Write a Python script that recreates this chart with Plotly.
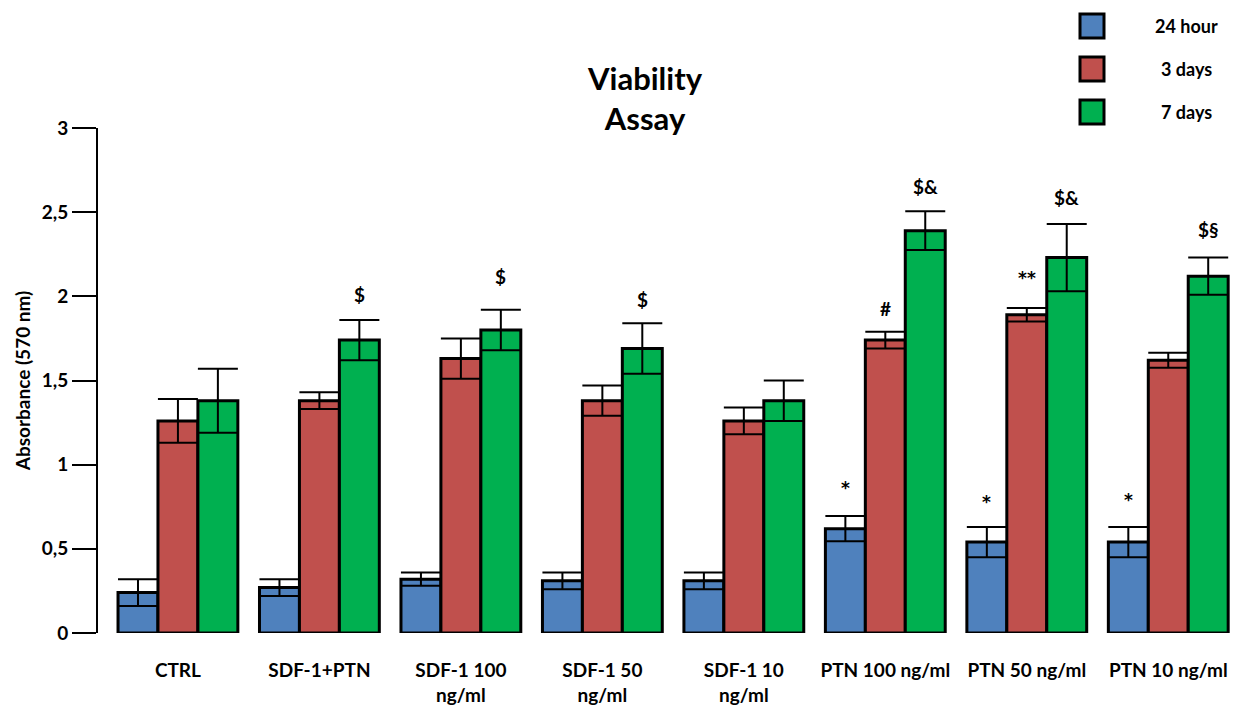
import plotly.graph_objects as go

categories = ["CTRL", "SDF-1+PTN", "SDF-1 100<br>ng/ml", "SDF-1 50<br>ng/ml", "SDF-1 10<br>ng/ml",
              "PTN 100 ng/ml", "PTN 50 ng/ml", "PTN 10 ng/ml"]
series_names = ["24 hour", "3 days", "7 days"]
colors = ["#4F81BD", "#C0504D", "#00B050"]

v_24h = [0.24, 0.27, 0.32, 0.31, 0.31, 0.62, 0.54, 0.54]
v_3d = [1.26, 1.38, 1.63, 1.38, 1.26, 1.74, 1.89, 1.62]
v_7d = [1.38, 1.74, 1.80, 1.69, 1.38, 2.39, 2.23, 2.12]

e_24h = [0.08, 0.05, 0.04, 0.05, 0.05, 0.075, 0.09, 0.09]
e_3d = [0.13, 0.05, 0.12, 0.09, 0.08, 0.05, 0.04, 0.045]
e_7d = [0.19, 0.12, 0.12, 0.15, 0.12, 0.115, 0.20, 0.11]

# significance marks: (category index, series index, label, y value)
marks = [
    (1, 2, "$", 2.01), (2, 2, "$", 2.12), (3, 2, "$", 1.98),
    (5, 0, "*", 0.86), (5, 1, "#", 1.93), (5, 2, "$&", 2.65),
    (6, 0, "*", 0.78), (6, 1, "**", 2.11), (6, 2, "$&", 2.59),
    (7, 0, "*", 0.79), (7, 2, "$§", 2.40),
]

y_ticks = [0, 0.5, 1, 1.5, 2, 2.5, 3]
y_ticktext = ["0", "0,5", "1", "1,5", "2", "2,5", "3"]

FONT = "Lato"
x = list(range(len(categories)))
vals = [v_24h, v_3d, v_7d]
errs = [e_24h, e_3d, e_7d]

fig = go.Figure()
for name, col, v, e in zip(series_names, colors, vals, errs):
    fig.add_trace(go.Bar(
        x=x, y=v, name=name,
        marker=dict(color=col, line=dict(color="black", width=3)),
        error_y=dict(type="data", array=e, color="black", thickness=2, width=20),
        showlegend=False,
    ))

bar_w = (1 - 0.153) / 3
for ci, si, lab, yv in marks:
    is_star = set(lab) == {"*"}
    fig.add_annotation(x=ci + (si - 1) * bar_w, y=yv, text=f"<b>{lab}</b>", showarrow=False,
                       font=dict(family="DejaVu Sans" if is_star else FONT, size=17 if is_star else 19,
                                 color="black"),
                       xref="x", yref="y", xanchor="center", yanchor="middle")

# custom legend
L, W = 98, 1141
T, H = 633, 505
def px(xp): return (xp - L) / W
def py(yp): return (T - yp) / H
leg_y = [26, 69, 112]
for name, col, yc in zip(series_names, colors, leg_y):
    fig.add_shape(type="rect", xref="paper", yref="paper",
                  x0=px(1080), x1=px(1104), y0=py(yc + 12), y1=py(yc - 12),
                  fillcolor=col, line=dict(color="black", width=3))
    fig.add_annotation(xref="paper", yref="paper", x=px(1186), y=py(yc), text=f"<b>{name}</b>",
                       showarrow=False, xanchor="center", yanchor="middle",
                       font=dict(family=FONT, size=18, color="black"))

fig.add_annotation(xref="paper", yref="paper", x=px(645), y=py(98), text="<b>Viability<br>Assay</b>",
                   showarrow=False, xanchor="center", yanchor="middle",
                   font=dict(family=FONT, size=31, color="black"))

fig.update_layout(
    width=1239, height=706,
    margin=dict(l=L, r=0, t=128, b=73),
    barmode="group", bargap=0.153, bargroupgap=0,
    plot_bgcolor="white", paper_bgcolor="white",
    font=dict(family=FONT, color="black"),
)
fig.update_xaxes(
    range=[-0.565, 7.5], tickvals=x, ticktext=[f"<b>{c}</b>" for c in categories],
    tickfont=dict(family=FONT, size=19, color="black"),
    showline=False, showgrid=False, zeroline=False, ticks="", ticklabelstandoff=24,
)
fig.update_yaxes(
    range=[0, 3], tickvals=y_ticks, ticktext=[f"<b>{t}</b>" for t in y_ticktext],
    tickfont=dict(family=FONT, size=19, color="black"),
    showline=True, linecolor="black", linewidth=2, ticks="outside", ticklen=24, tickwidth=2,
    tickcolor="black", showgrid=False, zeroline=False,
    title=dict(text="<b>Absorbance (570 nm)</b>", font=dict(family=FONT, size=19, color="black"), standoff=6),
)

fig.write_html("out.html", config={"displayModeBar": False},
               post_script="document.body.style.margin='0';")
